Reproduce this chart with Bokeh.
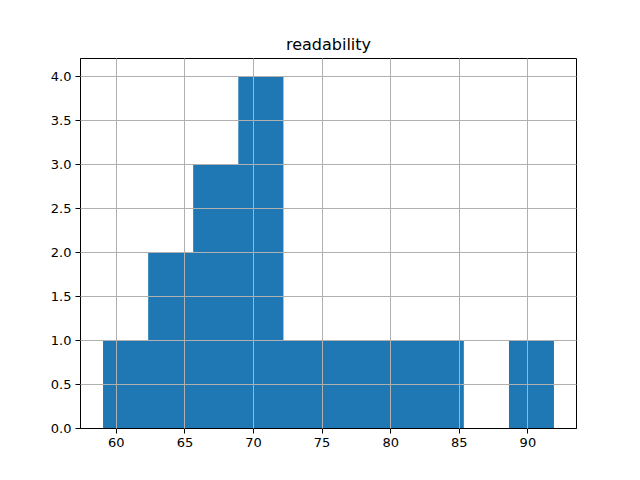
from bokeh.plotting import figure
from bokeh.models import Range1d, FixedTicker, NumeralTickFormatter
from bokeh.embed import file_html
from bokeh.resources import INLINE

# histogram of "readability" (10 bins)
bin_edges = [59.03, 62.32, 65.60, 68.89, 72.18, 75.47, 78.75, 82.04, 85.33, 88.62, 91.90]
counts = [1, 2, 3, 4, 1, 1, 1, 1, 0, 1]
x_ticks = [60, 65, 70, 75, 80, 85, 90]
y_ticks = [0.0, 0.5, 1.0, 1.5, 2.0, 2.5, 3.0, 3.5, 4.0]

span = bin_edges[-1] - bin_edges[0]
p = figure(
    width=624, height=464,
    frame_width=496, frame_height=370,
    min_border_left=80, min_border_right=48, min_border_top=58, min_border_bottom=36,
    x_range=Range1d(bin_edges[0] - 0.05 * span, bin_edges[-1] + 0.05 * span),
    y_range=Range1d(0, max(counts) * 1.05),
    output_backend="svg", toolbar_location=None,
    title="readability",
)

# bars drawn as one step-shaped area so that adjacent bins show no seams
p.varea_step(x=bin_edges, y1=[0] * len(bin_edges), y2=counts + [counts[-1]],
             step_mode="after", fill_color="#1f77b4")

p.title.align = "center"
p.title.text_font = "DejaVu Sans"
p.title.text_font_size = "16px"
p.title.text_font_style = "normal"
p.title.text_color = "black"

p.xaxis.ticker = FixedTicker(ticks=x_ticks)
p.yaxis.ticker = FixedTicker(ticks=y_ticks)
p.yaxis.formatter = NumeralTickFormatter(format="0.0")
for ax in (p.xaxis, p.yaxis):
    ax.major_label_text_font = "DejaVu Sans"
    ax.major_label_text_font_size = "13px"
    ax.major_label_text_color = "black"
    ax.axis_line_color = "black"
    ax.major_tick_line_color = "black"
    ax.major_tick_out = 5
    ax.major_tick_in = 0
    ax.minor_tick_line_color = None
    ax.major_label_standoff = 4

p.outline_line_color = "black"
p.outline_line_width = 1
p.grid.grid_line_color = "#b0b0b0"
p.grid.grid_line_width = 1
p.grid.level = "overlay"
p.xgrid.ticker = FixedTicker(ticks=x_ticks)
p.ygrid.ticker = FixedTicker(ticks=y_ticks)
p.background_fill_color = "white"
p.border_fill_color = "white"

open("out.html", "w").write(file_html(p, INLINE))
